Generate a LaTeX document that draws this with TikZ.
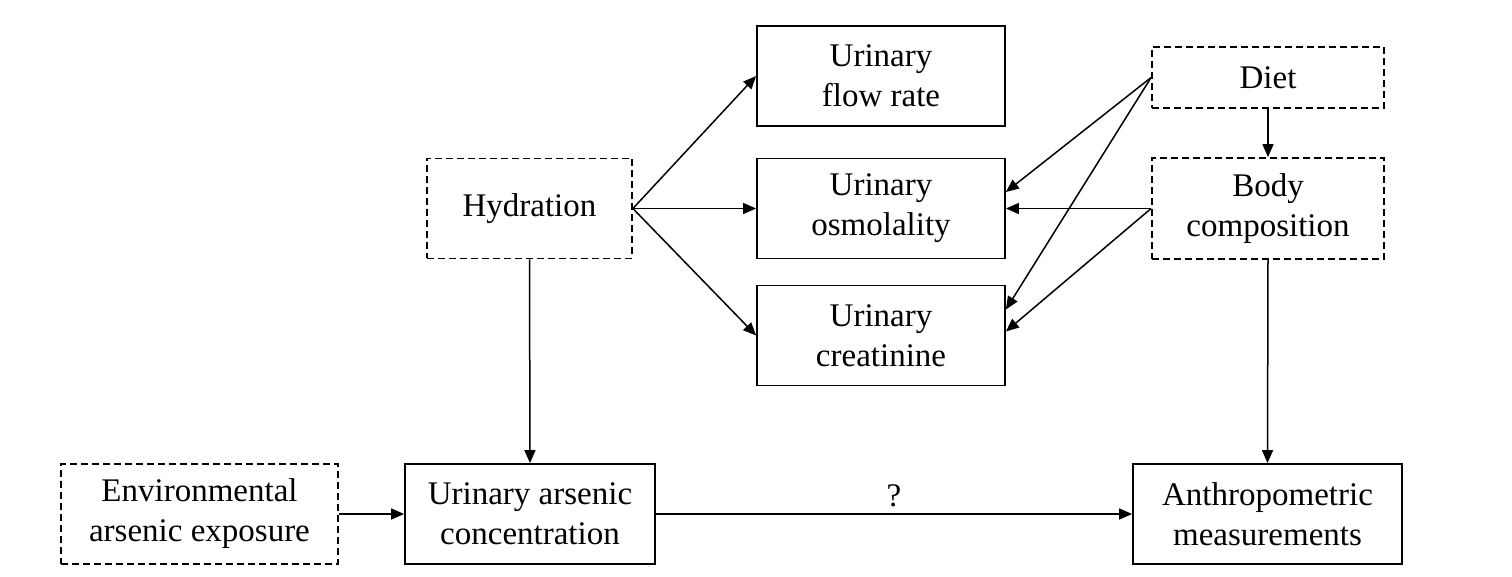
\documentclass[tikz,border=0pt]{standalone}
\usepackage{fontspec}
\setmainfont{Liberation Serif}
\usetikzlibrary{arrows.meta}
\begin{document}
\begin{tikzpicture}[x=0.5pt,y=-0.5pt,
  box/.style={draw, line width=0.9pt, align=center, inner sep=0pt,
    font=\fontsize{16.5}{20}\selectfont},
  dbox/.style={box, dash pattern=on 3.5pt off 2pt},
  arr/.style={line width=0.75pt, -{Triangle[length=6.5pt,width=5.5pt]}},
  lbl/.style={font=\fontsize{16.5}{20}\selectfont, inner sep=0pt}]
\useasboundingbox (0,0) rectangle (1512,577);
\node[box, minimum width=124pt, minimum height=50pt] (flow) at (881,76) {Urinary\\flow rate};
\node[box, minimum width=124pt, minimum height=50pt] (osmo) at (881,208.5) {Urinary\\osmolality};
\node[box, minimum width=124pt, minimum height=50pt] (creat) at (881,335.5) {Urinary\\creatinine};
\node[dbox, minimum width=102.5pt, minimum height=50pt] (hyd) at (529.5,208.5) {Hydration};
\node[dbox, minimum width=116pt, minimum height=30.5pt] (diet) at (1268,77.5) {Diet};
\node[dbox, minimum width=116pt, minimum height=50.5pt] (body) at (1268,208.5) {Body\\composition};
\node[dbox, minimum width=138.5pt, minimum height=50pt] (env) at (199.5,514) {Environmental\\arsenic exposure};
\node[box, minimum width=125pt, minimum height=50pt] (ars) at (530,514) {Urinary arsenic\\concentration};
\node[box, minimum width=134.5pt, minimum height=50pt] (anth) at (1267.5,514) {Anthropometric\\measurements};

\draw[arr] (hyd.east) -- (flow.west);
\draw[arr] (hyd.east) -- (osmo.west);
\draw[arr] (hyd.east) -- (creat.west);
\draw[arr] (hyd.south) -- (ars.north);
\draw[arr] (env.east) -- (ars.west);
\draw[arr] (ars.east) -- node[lbl, above=3pt] (q) {?} (anth.west);
\draw[arr] (diet.south) -- (body.north);
\draw[arr] (body.south) -- (anth.north);
\draw[arr] (diet.west) -- ([yshift=8.25pt]osmo.east);
\draw[arr] (diet.west) -- ([yshift=13pt]creat.east);
\draw[arr] (body.west) -- (osmo.east);
\draw[arr] (body.west) -- ([yshift=2pt]creat.east);
\end{tikzpicture}
\end{document}
